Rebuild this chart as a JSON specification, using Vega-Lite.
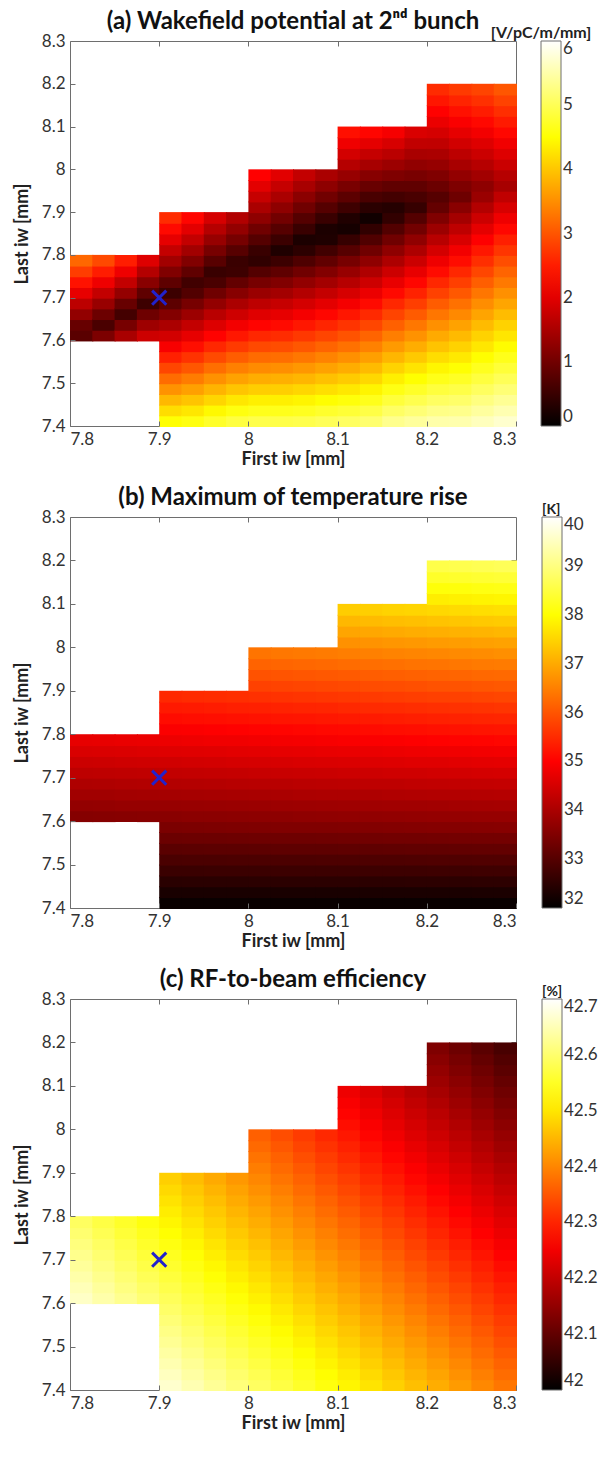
{
  "$schema": "https://vega.github.io/schema/vega-lite/v6.json",
  "padding": {"left": 12, "top": 9, "right": 0, "bottom": 0},
  "background": "white",
  "datasets": {
    "g": [
{"x":7.8,"y":7.6,"a":0.79,"b":33.57,"c":42.661},{"x":7.8,"y":7.625,"a":0.91,"b":33.73,"c":42.651},{"x":7.8,"y":7.65,"a":1.29,"b":33.89,"c":42.641},{"x":7.8,"y":7.675,"a":1.66,"b":34.05,"c":42.631},{"x":7.8,"y":7.7,"a":2.04,"b":34.22,"c":42.621},{"x":7.8,"y":7.725,"a":2.41,"b":34.39,"c":42.611},{"x":7.8,"y":7.75,"a":2.79,"b":34.55,"c":42.601},{"x":7.8,"y":7.775,"a":3.16,"b":34.72,"c":42.591},
{"x":7.825,"y":7.6,"a":1.09,"b":33.58,"c":42.642},{"x":7.825,"y":7.625,"a":0.65,"b":33.74,"c":42.632},{"x":7.825,"y":7.65,"a":0.95,"b":33.9,"c":42.622},{"x":7.825,"y":7.675,"a":1.34,"b":34.06,"c":42.612},{"x":7.825,"y":7.7,"a":1.72,"b":34.23,"c":42.602},{"x":7.825,"y":7.725,"a":2.11,"b":34.4,"c":42.592},{"x":7.825,"y":7.75,"a":2.5,"b":34.56,"c":42.582},{"x":7.825,"y":7.775,"a":2.89,"b":34.73,"c":42.572},
{"x":7.85,"y":7.6,"a":1.49,"b":33.59,"c":42.623},{"x":7.85,"y":7.625,"a":1.05,"b":33.76,"c":42.613},{"x":7.85,"y":7.65,"a":0.6,"b":33.92,"c":42.603},{"x":7.85,"y":7.675,"a":0.91,"b":34.08,"c":42.593},{"x":7.85,"y":7.7,"a":1.31,"b":34.25,"c":42.583},{"x":7.85,"y":7.725,"a":1.71,"b":34.42,"c":42.573},{"x":7.85,"y":7.75,"a":2.11,"b":34.58,"c":42.563},{"x":7.85,"y":7.775,"a":2.51,"b":34.75,"c":42.553},
{"x":7.875,"y":7.6,"a":1.81,"b":33.6,"c":42.604},{"x":7.875,"y":7.625,"a":1.39,"b":33.77,"c":42.594},{"x":7.875,"y":7.65,"a":0.97,"b":33.93,"c":42.584},{"x":7.875,"y":7.675,"a":0.54,"b":34.09,"c":42.574},{"x":7.875,"y":7.7,"a":0.84,"b":34.26,"c":42.564},{"x":7.875,"y":7.725,"a":1.21,"b":34.44,"c":42.554},{"x":7.875,"y":7.75,"a":1.59,"b":34.6,"c":42.544},{"x":7.875,"y":7.775,"a":1.96,"b":34.77,"c":42.534},
{"x":7.9,"y":7.4,"a":4.52,"b":32.1,"c":42.666},{"x":7.9,"y":7.425,"a":4.2,"b":32.29,"c":42.656},{"x":7.9,"y":7.45,"a":3.87,"b":32.48,"c":42.646},{"x":7.9,"y":7.475,"a":3.54,"b":32.68,"c":42.636},{"x":7.9,"y":7.5,"a":3.2,"b":32.87,"c":42.626},{"x":7.9,"y":7.525,"a":2.87,"b":33.06,"c":42.616},{"x":7.9,"y":7.55,"a":2.53,"b":33.26,"c":42.606},{"x":7.9,"y":7.575,"a":2.19,"b":33.45,"c":42.596},{"x":7.9,"y":7.6,"a":1.85,"b":33.61,"c":42.586},{"x":7.9,"y":7.625,"a":1.51,"b":33.78,"c":42.576},{"x":7.9,"y":7.65,"a":1.16,"b":33.94,"c":42.566},{"x":7.9,"y":7.675,"a":0.82,"b":34.1,"c":42.556},{"x":7.9,"y":7.7,"a":0.53,"b":34.28,"c":42.546},{"x":7.9,"y":7.725,"a":0.83,"b":34.45,"c":42.536},{"x":7.9,"y":7.75,"a":1.13,"b":34.62,"c":42.526},{"x":7.9,"y":7.775,"a":1.43,"b":34.79,"c":42.516},{"x":7.9,"y":7.8,"a":1.73,"b":34.95,"c":42.506},{"x":7.9,"y":7.825,"a":2.03,"b":35.13,"c":42.496},{"x":7.9,"y":7.85,"a":2.33,"b":35.29,"c":42.486},{"x":7.9,"y":7.875,"a":2.63,"b":35.47,"c":42.476},
{"x":7.925,"y":7.4,"a":4.6,"b":32.1,"c":42.647},{"x":7.925,"y":7.425,"a":4.29,"b":32.29,"c":42.637},{"x":7.925,"y":7.45,"a":3.98,"b":32.49,"c":42.627},{"x":7.925,"y":7.475,"a":3.66,"b":32.68,"c":42.617},{"x":7.925,"y":7.5,"a":3.34,"b":32.88,"c":42.607},{"x":7.925,"y":7.525,"a":3.02,"b":33.07,"c":42.597},{"x":7.925,"y":7.55,"a":2.7,"b":33.27,"c":42.587},{"x":7.925,"y":7.575,"a":2.37,"b":33.46,"c":42.577},{"x":7.925,"y":7.6,"a":2.04,"b":33.63,"c":42.567},{"x":7.925,"y":7.625,"a":1.72,"b":33.79,"c":42.557},{"x":7.925,"y":7.65,"a":1.38,"b":33.95,"c":42.547},{"x":7.925,"y":7.675,"a":1.05,"b":34.12,"c":42.537},{"x":7.925,"y":7.7,"a":0.72,"b":34.29,"c":42.527},{"x":7.925,"y":7.725,"a":0.57,"b":34.47,"c":42.517},{"x":7.925,"y":7.75,"a":0.85,"b":34.63,"c":42.507},{"x":7.925,"y":7.775,"a":1.14,"b":34.81,"c":42.497},{"x":7.925,"y":7.8,"a":1.43,"b":34.97,"c":42.487},{"x":7.925,"y":7.825,"a":1.72,"b":35.15,"c":42.477},{"x":7.925,"y":7.85,"a":2.0,"b":35.31,"c":42.467},{"x":7.925,"y":7.875,"a":2.29,"b":35.5,"c":42.457},
{"x":7.95,"y":7.4,"a":4.75,"b":32.1,"c":42.628},{"x":7.95,"y":7.425,"a":4.45,"b":32.29,"c":42.618},{"x":7.95,"y":7.45,"a":4.14,"b":32.49,"c":42.608},{"x":7.95,"y":7.475,"a":3.84,"b":32.69,"c":42.598},{"x":7.95,"y":7.5,"a":3.53,"b":32.88,"c":42.588},{"x":7.95,"y":7.525,"a":3.22,"b":33.08,"c":42.578},{"x":7.95,"y":7.55,"a":2.9,"b":33.27,"c":42.568},{"x":7.95,"y":7.575,"a":2.59,"b":33.47,"c":42.558},{"x":7.95,"y":7.6,"a":2.27,"b":33.64,"c":42.548},{"x":7.95,"y":7.625,"a":1.95,"b":33.8,"c":42.538},{"x":7.95,"y":7.65,"a":1.63,"b":33.97,"c":42.528},{"x":7.95,"y":7.675,"a":1.3,"b":34.13,"c":42.518},{"x":7.95,"y":7.7,"a":0.98,"b":34.31,"c":42.508},{"x":7.95,"y":7.725,"a":0.65,"b":34.48,"c":42.498},{"x":7.95,"y":7.75,"a":0.5,"b":34.65,"c":42.488},{"x":7.95,"y":7.775,"a":0.78,"b":34.83,"c":42.478},{"x":7.95,"y":7.8,"a":1.05,"b":34.99,"c":42.468},{"x":7.95,"y":7.825,"a":1.33,"b":35.17,"c":42.458},{"x":7.95,"y":7.85,"a":1.6,"b":35.33,"c":42.448},{"x":7.95,"y":7.875,"a":1.88,"b":35.52,"c":42.438},
{"x":7.975,"y":7.4,"a":4.88,"b":32.1,"c":42.609},{"x":7.975,"y":7.425,"a":4.59,"b":32.3,"c":42.599},{"x":7.975,"y":7.45,"a":4.29,"b":32.49,"c":42.589},{"x":7.975,"y":7.475,"a":3.99,"b":32.69,"c":42.579},{"x":7.975,"y":7.5,"a":3.68,"b":32.89,"c":42.569},{"x":7.975,"y":7.525,"a":3.38,"b":33.08,"c":42.559},{"x":7.975,"y":7.55,"a":3.07,"b":33.28,"c":42.549},{"x":7.975,"y":7.575,"a":2.76,"b":33.48,"c":42.539},{"x":7.975,"y":7.6,"a":2.45,"b":33.65,"c":42.529},{"x":7.975,"y":7.625,"a":2.14,"b":33.81,"c":42.519},{"x":7.975,"y":7.65,"a":1.82,"b":33.98,"c":42.509},{"x":7.975,"y":7.675,"a":1.51,"b":34.15,"c":42.499},{"x":7.975,"y":7.7,"a":1.19,"b":34.32,"c":42.489},{"x":7.975,"y":7.725,"a":0.87,"b":34.5,"c":42.479},{"x":7.975,"y":7.75,"a":0.54,"b":34.67,"c":42.469},{"x":7.975,"y":7.775,"a":0.51,"b":34.84,"c":42.459},{"x":7.975,"y":7.8,"a":0.77,"b":35.01,"c":42.449},{"x":7.975,"y":7.825,"a":1.04,"b":35.19,"c":42.439},{"x":7.975,"y":7.85,"a":1.3,"b":35.36,"c":42.429},{"x":7.975,"y":7.875,"a":1.56,"b":35.54,"c":42.419},
{"x":8.0,"y":7.4,"a":4.94,"b":32.1,"c":42.591},{"x":8.0,"y":7.425,"a":4.66,"b":32.3,"c":42.581},{"x":8.0,"y":7.45,"a":4.37,"b":32.5,"c":42.571},{"x":8.0,"y":7.475,"a":4.07,"b":32.69,"c":42.561},{"x":8.0,"y":7.5,"a":3.78,"b":32.89,"c":42.551},{"x":8.0,"y":7.525,"a":3.48,"b":33.09,"c":42.541},{"x":8.0,"y":7.55,"a":3.19,"b":33.29,"c":42.531},{"x":8.0,"y":7.575,"a":2.89,"b":33.49,"c":42.521},{"x":8.0,"y":7.6,"a":2.59,"b":33.66,"c":42.511},{"x":8.0,"y":7.625,"a":2.28,"b":33.82,"c":42.501},{"x":8.0,"y":7.65,"a":1.98,"b":33.99,"c":42.491},{"x":8.0,"y":7.675,"a":1.67,"b":34.16,"c":42.481},{"x":8.0,"y":7.7,"a":1.36,"b":34.34,"c":42.471},{"x":8.0,"y":7.725,"a":1.05,"b":34.52,"c":42.461},{"x":8.0,"y":7.75,"a":0.73,"b":34.68,"c":42.451},{"x":8.0,"y":7.775,"a":0.42,"b":34.86,"c":42.441},{"x":8.0,"y":7.8,"a":0.5,"b":35.03,"c":42.431},{"x":8.0,"y":7.825,"a":0.75,"b":35.21,"c":42.421},{"x":8.0,"y":7.85,"a":0.99,"b":35.38,"c":42.411},{"x":8.0,"y":7.875,"a":1.25,"b":35.57,"c":42.401},{"x":8.0,"y":7.9,"a":1.5,"b":35.76,"c":42.391},{"x":8.0,"y":7.925,"a":1.75,"b":35.96,"c":42.381},{"x":8.0,"y":7.95,"a":2.0,"b":36.16,"c":42.371},{"x":8.0,"y":7.975,"a":2.25,"b":36.37,"c":42.361},
{"x":8.025,"y":7.4,"a":4.93,"b":32.1,"c":42.572},{"x":8.025,"y":7.425,"a":4.65,"b":32.3,"c":42.562},{"x":8.025,"y":7.45,"a":4.37,"b":32.5,"c":42.552},{"x":8.025,"y":7.475,"a":4.08,"b":32.7,"c":42.542},{"x":8.025,"y":7.5,"a":3.8,"b":32.9,"c":42.532},{"x":8.025,"y":7.525,"a":3.51,"b":33.1,"c":42.522},{"x":8.025,"y":7.55,"a":3.22,"b":33.3,"c":42.512},{"x":8.025,"y":7.575,"a":2.93,"b":33.5,"c":42.502},{"x":8.025,"y":7.6,"a":2.64,"b":33.66,"c":42.492},{"x":8.025,"y":7.625,"a":2.34,"b":33.83,"c":42.482},{"x":8.025,"y":7.65,"a":2.04,"b":34.0,"c":42.472},{"x":8.025,"y":7.675,"a":1.75,"b":34.17,"c":42.462},{"x":8.025,"y":7.7,"a":1.44,"b":34.35,"c":42.452},{"x":8.025,"y":7.725,"a":1.14,"b":34.53,"c":42.442},{"x":8.025,"y":7.75,"a":0.84,"b":34.7,"c":42.432},{"x":8.025,"y":7.775,"a":0.53,"b":34.88,"c":42.422},{"x":8.025,"y":7.8,"a":0.27,"b":35.05,"c":42.412},{"x":8.025,"y":7.825,"a":0.52,"b":35.23,"c":42.402},{"x":8.025,"y":7.85,"a":0.76,"b":35.4,"c":42.392},{"x":8.025,"y":7.875,"a":1.01,"b":35.59,"c":42.382},{"x":8.025,"y":7.9,"a":1.25,"b":35.79,"c":42.372},{"x":8.025,"y":7.925,"a":1.5,"b":35.99,"c":42.362},{"x":8.025,"y":7.95,"a":1.74,"b":36.19,"c":42.352},{"x":8.025,"y":7.975,"a":1.99,"b":36.4,"c":42.342},
{"x":8.05,"y":7.4,"a":4.95,"b":32.1,"c":42.553},{"x":8.05,"y":7.425,"a":4.68,"b":32.3,"c":42.543},{"x":8.05,"y":7.45,"a":4.41,"b":32.5,"c":42.533},{"x":8.05,"y":7.475,"a":4.14,"b":32.7,"c":42.523},{"x":8.05,"y":7.5,"a":3.86,"b":32.9,"c":42.513},{"x":8.05,"y":7.525,"a":3.58,"b":33.1,"c":42.503},{"x":8.05,"y":7.55,"a":3.3,"b":33.3,"c":42.493},{"x":8.05,"y":7.575,"a":3.02,"b":33.5,"c":42.483},{"x":8.05,"y":7.6,"a":2.74,"b":33.68,"c":42.473},{"x":8.05,"y":7.625,"a":2.45,"b":33.85,"c":42.463},{"x":8.05,"y":7.65,"a":2.16,"b":34.02,"c":42.453},{"x":8.05,"y":7.675,"a":1.87,"b":34.19,"c":42.443},{"x":8.05,"y":7.7,"a":1.58,"b":34.37,"c":42.433},{"x":8.05,"y":7.725,"a":1.29,"b":34.55,"c":42.423},{"x":8.05,"y":7.75,"a":0.99,"b":34.72,"c":42.413},{"x":8.05,"y":7.775,"a":0.69,"b":34.9,"c":42.403},{"x":8.05,"y":7.8,"a":0.39,"b":35.07,"c":42.393},{"x":8.05,"y":7.825,"a":0.25,"b":35.25,"c":42.383},{"x":8.05,"y":7.85,"a":0.5,"b":35.42,"c":42.373},{"x":8.05,"y":7.875,"a":0.74,"b":35.61,"c":42.363},{"x":8.05,"y":7.9,"a":0.99,"b":35.81,"c":42.353},{"x":8.05,"y":7.925,"a":1.23,"b":36.01,"c":42.343},{"x":8.05,"y":7.95,"a":1.48,"b":36.21,"c":42.333},{"x":8.05,"y":7.975,"a":1.72,"b":36.42,"c":42.323},
{"x":8.075,"y":7.4,"a":5.02,"b":32.1,"c":42.534},{"x":8.075,"y":7.425,"a":4.76,"b":32.3,"c":42.524},{"x":8.075,"y":7.45,"a":4.49,"b":32.5,"c":42.514},{"x":8.075,"y":7.475,"a":4.22,"b":32.71,"c":42.504},{"x":8.075,"y":7.5,"a":3.95,"b":32.91,"c":42.494},{"x":8.075,"y":7.525,"a":3.68,"b":33.11,"c":42.484},{"x":8.075,"y":7.55,"a":3.41,"b":33.31,"c":42.474},{"x":8.075,"y":7.575,"a":3.13,"b":33.51,"c":42.464},{"x":8.075,"y":7.6,"a":2.86,"b":33.69,"c":42.454},{"x":8.075,"y":7.625,"a":2.58,"b":33.86,"c":42.444},{"x":8.075,"y":7.65,"a":2.3,"b":34.03,"c":42.434},{"x":8.075,"y":7.675,"a":2.01,"b":34.2,"c":42.424},{"x":8.075,"y":7.7,"a":1.73,"b":34.38,"c":42.414},{"x":8.075,"y":7.725,"a":1.44,"b":34.56,"c":42.404},{"x":8.075,"y":7.75,"a":1.15,"b":34.74,"c":42.394},{"x":8.075,"y":7.775,"a":0.86,"b":34.92,"c":42.384},{"x":8.075,"y":7.8,"a":0.57,"b":35.09,"c":42.374},{"x":8.075,"y":7.825,"a":0.27,"b":35.27,"c":42.364},{"x":8.075,"y":7.85,"a":0.25,"b":35.44,"c":42.354},{"x":8.075,"y":7.875,"a":0.5,"b":35.63,"c":42.344},{"x":8.075,"y":7.9,"a":0.75,"b":35.84,"c":42.334},{"x":8.075,"y":7.925,"a":1.0,"b":36.04,"c":42.324},{"x":8.075,"y":7.95,"a":1.25,"b":36.24,"c":42.314},{"x":8.075,"y":7.975,"a":1.5,"b":36.45,"c":42.304},
{"x":8.1,"y":7.4,"a":5.07,"b":32.1,"c":42.516},{"x":8.1,"y":7.425,"a":4.82,"b":32.3,"c":42.506},{"x":8.1,"y":7.45,"a":4.56,"b":32.51,"c":42.496},{"x":8.1,"y":7.475,"a":4.3,"b":32.71,"c":42.486},{"x":8.1,"y":7.5,"a":4.04,"b":32.91,"c":42.476},{"x":8.1,"y":7.525,"a":3.78,"b":33.12,"c":42.466},{"x":8.1,"y":7.55,"a":3.52,"b":33.32,"c":42.456},{"x":8.1,"y":7.575,"a":3.25,"b":33.52,"c":42.446},{"x":8.1,"y":7.6,"a":2.98,"b":33.7,"c":42.436},{"x":8.1,"y":7.625,"a":2.71,"b":33.87,"c":42.426},{"x":8.1,"y":7.65,"a":2.44,"b":34.04,"c":42.416},{"x":8.1,"y":7.675,"a":2.16,"b":34.21,"c":42.406},{"x":8.1,"y":7.7,"a":1.89,"b":34.4,"c":42.396},{"x":8.1,"y":7.725,"a":1.61,"b":34.58,"c":42.386},{"x":8.1,"y":7.75,"a":1.33,"b":34.75,"c":42.376},{"x":8.1,"y":7.775,"a":1.05,"b":34.94,"c":42.366},{"x":8.1,"y":7.8,"a":0.76,"b":35.11,"c":42.356},{"x":8.1,"y":7.825,"a":0.48,"b":35.29,"c":42.346},{"x":8.1,"y":7.85,"a":0.19,"b":35.47,"c":42.336},{"x":8.1,"y":7.875,"a":0.28,"b":35.66,"c":42.326},{"x":8.1,"y":7.9,"a":0.55,"b":35.86,"c":42.316},{"x":8.1,"y":7.925,"a":0.81,"b":36.06,"c":42.306},{"x":8.1,"y":7.95,"a":1.07,"b":36.27,"c":42.296},{"x":8.1,"y":7.975,"a":1.33,"b":36.48,"c":42.286},{"x":8.1,"y":8.0,"a":1.6,"b":36.7,"c":42.276},{"x":8.1,"y":8.025,"a":1.86,"b":36.94,"c":42.266},{"x":8.1,"y":8.05,"a":2.12,"b":37.17,"c":42.256},{"x":8.1,"y":8.075,"a":2.38,"b":37.41,"c":42.246},
{"x":8.125,"y":7.4,"a":5.15,"b":32.1,"c":42.497},{"x":8.125,"y":7.425,"a":4.91,"b":32.31,"c":42.487},{"x":8.125,"y":7.45,"a":4.66,"b":32.51,"c":42.477},{"x":8.125,"y":7.475,"a":4.41,"b":32.72,"c":42.467},{"x":8.125,"y":7.5,"a":4.16,"b":32.92,"c":42.457},{"x":8.125,"y":7.525,"a":3.9,"b":33.12,"c":42.447},{"x":8.125,"y":7.55,"a":3.65,"b":33.33,"c":42.437},{"x":8.125,"y":7.575,"a":3.39,"b":33.53,"c":42.427},{"x":8.125,"y":7.6,"a":3.13,"b":33.71,"c":42.417},{"x":8.125,"y":7.625,"a":2.87,"b":33.88,"c":42.407},{"x":8.125,"y":7.65,"a":2.61,"b":34.05,"c":42.397},{"x":8.125,"y":7.675,"a":2.34,"b":34.23,"c":42.387},{"x":8.125,"y":7.7,"a":2.08,"b":34.41,"c":42.377},{"x":8.125,"y":7.725,"a":1.81,"b":34.6,"c":42.367},{"x":8.125,"y":7.75,"a":1.54,"b":34.77,"c":42.357},{"x":8.125,"y":7.775,"a":1.26,"b":34.95,"c":42.347},{"x":8.125,"y":7.8,"a":0.99,"b":35.13,"c":42.337},{"x":8.125,"y":7.825,"a":0.71,"b":35.31,"c":42.327},{"x":8.125,"y":7.85,"a":0.43,"b":35.49,"c":42.317},{"x":8.125,"y":7.875,"a":0.15,"b":35.68,"c":42.307},{"x":8.125,"y":7.9,"a":0.37,"b":35.89,"c":42.297},{"x":8.125,"y":7.925,"a":0.64,"b":36.09,"c":42.287},{"x":8.125,"y":7.95,"a":0.92,"b":36.29,"c":42.277},{"x":8.125,"y":7.975,"a":1.19,"b":36.51,"c":42.267},{"x":8.125,"y":8.0,"a":1.47,"b":36.73,"c":42.257},{"x":8.125,"y":8.025,"a":1.74,"b":36.97,"c":42.247},{"x":8.125,"y":8.05,"a":2.02,"b":37.2,"c":42.237},{"x":8.125,"y":8.075,"a":2.29,"b":37.44,"c":42.227},
{"x":8.15,"y":7.4,"a":5.33,"b":32.1,"c":42.478},{"x":8.15,"y":7.425,"a":5.09,"b":32.31,"c":42.468},{"x":8.15,"y":7.45,"a":4.85,"b":32.51,"c":42.458},{"x":8.15,"y":7.475,"a":4.61,"b":32.72,"c":42.448},{"x":8.15,"y":7.5,"a":4.36,"b":32.92,"c":42.438},{"x":8.15,"y":7.525,"a":4.11,"b":33.13,"c":42.428},{"x":8.15,"y":7.55,"a":3.86,"b":33.34,"c":42.418},{"x":8.15,"y":7.575,"a":3.61,"b":33.54,"c":42.408},{"x":8.15,"y":7.6,"a":3.36,"b":33.72,"c":42.398},{"x":8.15,"y":7.625,"a":3.1,"b":33.89,"c":42.388},{"x":8.15,"y":7.65,"a":2.85,"b":34.07,"c":42.378},{"x":8.15,"y":7.675,"a":2.59,"b":34.24,"c":42.368},{"x":8.15,"y":7.7,"a":2.33,"b":34.43,"c":42.358},{"x":8.15,"y":7.725,"a":2.06,"b":34.61,"c":42.348},{"x":8.15,"y":7.75,"a":1.8,"b":34.79,"c":42.338},{"x":8.15,"y":7.775,"a":1.53,"b":34.97,"c":42.328},{"x":8.15,"y":7.8,"a":1.26,"b":35.15,"c":42.318},{"x":8.15,"y":7.825,"a":0.99,"b":35.33,"c":42.308},{"x":8.15,"y":7.85,"a":0.72,"b":35.51,"c":42.298},{"x":8.15,"y":7.875,"a":0.44,"b":35.7,"c":42.288},{"x":8.15,"y":7.9,"a":0.33,"b":35.91,"c":42.278},{"x":8.15,"y":7.925,"a":0.59,"b":36.12,"c":42.268},{"x":8.15,"y":7.95,"a":0.85,"b":36.32,"c":42.258},{"x":8.15,"y":7.975,"a":1.12,"b":36.54,"c":42.248},{"x":8.15,"y":8.0,"a":1.38,"b":36.76,"c":42.238},{"x":8.15,"y":8.025,"a":1.64,"b":37.0,"c":42.228},{"x":8.15,"y":8.05,"a":1.9,"b":37.23,"c":42.218},{"x":8.15,"y":8.075,"a":2.17,"b":37.48,"c":42.208},
{"x":8.175,"y":7.4,"a":5.42,"b":32.1,"c":42.459},{"x":8.175,"y":7.425,"a":5.19,"b":32.31,"c":42.449},{"x":8.175,"y":7.45,"a":4.96,"b":32.52,"c":42.439},{"x":8.175,"y":7.475,"a":4.73,"b":32.72,"c":42.429},{"x":8.175,"y":7.5,"a":4.5,"b":32.93,"c":42.419},{"x":8.175,"y":7.525,"a":4.26,"b":33.14,"c":42.409},{"x":8.175,"y":7.55,"a":4.02,"b":33.34,"c":42.399},{"x":8.175,"y":7.575,"a":3.78,"b":33.55,"c":42.389},{"x":8.175,"y":7.6,"a":3.54,"b":33.73,"c":42.379},{"x":8.175,"y":7.625,"a":3.3,"b":33.9,"c":42.369},{"x":8.175,"y":7.65,"a":3.05,"b":34.08,"c":42.359},{"x":8.175,"y":7.675,"a":2.8,"b":34.26,"c":42.349},{"x":8.175,"y":7.7,"a":2.55,"b":34.44,"c":42.339},{"x":8.175,"y":7.725,"a":2.3,"b":34.63,"c":42.329},{"x":8.175,"y":7.75,"a":2.05,"b":34.81,"c":42.319},{"x":8.175,"y":7.775,"a":1.79,"b":34.99,"c":42.309},{"x":8.175,"y":7.8,"a":1.53,"b":35.17,"c":42.299},{"x":8.175,"y":7.825,"a":1.27,"b":35.35,"c":42.289},{"x":8.175,"y":7.85,"a":1.01,"b":35.53,"c":42.279},{"x":8.175,"y":7.875,"a":0.74,"b":35.73,"c":42.269},{"x":8.175,"y":7.9,"a":0.48,"b":35.93,"c":42.259},{"x":8.175,"y":7.925,"a":0.64,"b":36.14,"c":42.249},{"x":8.175,"y":7.95,"a":0.85,"b":36.35,"c":42.239},{"x":8.175,"y":7.975,"a":1.07,"b":36.56,"c":42.229},{"x":8.175,"y":8.0,"a":1.28,"b":36.79,"c":42.219},{"x":8.175,"y":8.025,"a":1.49,"b":37.03,"c":42.209},{"x":8.175,"y":8.05,"a":1.7,"b":37.26,"c":42.199},{"x":8.175,"y":8.075,"a":1.92,"b":37.51,"c":42.189},
{"x":8.2,"y":7.4,"a":5.5,"b":32.1,"c":42.441},{"x":8.2,"y":7.425,"a":5.29,"b":32.31,"c":42.431},{"x":8.2,"y":7.45,"a":5.07,"b":32.52,"c":42.421},{"x":8.2,"y":7.475,"a":4.86,"b":32.73,"c":42.411},{"x":8.2,"y":7.5,"a":4.64,"b":32.94,"c":42.401},{"x":8.2,"y":7.525,"a":4.42,"b":33.14,"c":42.391},{"x":8.2,"y":7.55,"a":4.2,"b":33.35,"c":42.381},{"x":8.2,"y":7.575,"a":3.97,"b":33.56,"c":42.371},{"x":8.2,"y":7.6,"a":3.75,"b":33.74,"c":42.361},{"x":8.2,"y":7.625,"a":3.52,"b":33.91,"c":42.351},{"x":8.2,"y":7.65,"a":3.29,"b":34.09,"c":42.341},{"x":8.2,"y":7.675,"a":3.06,"b":34.27,"c":42.331},{"x":8.2,"y":7.7,"a":2.82,"b":34.46,"c":42.321},{"x":8.2,"y":7.725,"a":2.59,"b":34.64,"c":42.311},{"x":8.2,"y":7.75,"a":2.35,"b":34.82,"c":42.301},{"x":8.2,"y":7.775,"a":2.11,"b":35.01,"c":42.291},{"x":8.2,"y":7.8,"a":1.87,"b":35.19,"c":42.281},{"x":8.2,"y":7.825,"a":1.62,"b":35.38,"c":42.271},{"x":8.2,"y":7.85,"a":1.38,"b":35.55,"c":42.261},{"x":8.2,"y":7.875,"a":1.13,"b":35.75,"c":42.251},{"x":8.2,"y":7.9,"a":0.88,"b":35.96,"c":42.241},{"x":8.2,"y":7.925,"a":0.76,"b":36.17,"c":42.231},{"x":8.2,"y":7.95,"a":0.94,"b":36.37,"c":42.221},{"x":8.2,"y":7.975,"a":1.13,"b":36.59,"c":42.211},{"x":8.2,"y":8.0,"a":1.32,"b":36.82,"c":42.201},{"x":8.2,"y":8.025,"a":1.51,"b":37.06,"c":42.191},{"x":8.2,"y":8.05,"a":1.69,"b":37.3,"c":42.181},{"x":8.2,"y":8.075,"a":1.88,"b":37.54,"c":42.171},{"x":8.2,"y":8.1,"a":2.07,"b":37.8,"c":42.161},{"x":8.2,"y":8.125,"a":2.26,"b":38.06,"c":42.151},{"x":8.2,"y":8.15,"a":2.44,"b":38.32,"c":42.141},{"x":8.2,"y":8.175,"a":2.63,"b":38.57,"c":42.131},
{"x":8.225,"y":7.4,"a":5.52,"b":32.11,"c":42.422},{"x":8.225,"y":7.425,"a":5.32,"b":32.31,"c":42.412},{"x":8.225,"y":7.45,"a":5.12,"b":32.52,"c":42.402},{"x":8.225,"y":7.475,"a":4.92,"b":32.73,"c":42.392},{"x":8.225,"y":7.5,"a":4.72,"b":32.94,"c":42.382},{"x":8.225,"y":7.525,"a":4.51,"b":33.15,"c":42.372},{"x":8.225,"y":7.55,"a":4.31,"b":33.36,"c":42.362},{"x":8.225,"y":7.575,"a":4.1,"b":33.57,"c":42.352},{"x":8.225,"y":7.6,"a":3.89,"b":33.75,"c":42.342},{"x":8.225,"y":7.625,"a":3.68,"b":33.93,"c":42.332},{"x":8.225,"y":7.65,"a":3.46,"b":34.1,"c":42.322},{"x":8.225,"y":7.675,"a":3.25,"b":34.28,"c":42.312},{"x":8.225,"y":7.7,"a":3.03,"b":34.47,"c":42.302},{"x":8.225,"y":7.725,"a":2.81,"b":34.66,"c":42.292},{"x":8.225,"y":7.75,"a":2.59,"b":34.84,"c":42.282},{"x":8.225,"y":7.775,"a":2.36,"b":35.03,"c":42.272},{"x":8.225,"y":7.8,"a":2.14,"b":35.21,"c":42.262},{"x":8.225,"y":7.825,"a":1.91,"b":35.4,"c":42.252},{"x":8.225,"y":7.85,"a":1.68,"b":35.58,"c":42.242},{"x":8.225,"y":7.875,"a":1.45,"b":35.77,"c":42.232},{"x":8.225,"y":7.9,"a":1.21,"b":35.98,"c":42.222},{"x":8.225,"y":7.925,"a":0.97,"b":36.19,"c":42.212},{"x":8.225,"y":7.95,"a":1.11,"b":36.4,"c":42.202},{"x":8.225,"y":7.975,"a":1.3,"b":36.62,"c":42.192},{"x":8.225,"y":8.0,"a":1.48,"b":36.85,"c":42.182},{"x":8.225,"y":8.025,"a":1.66,"b":37.09,"c":42.172},{"x":8.225,"y":8.05,"a":1.84,"b":37.33,"c":42.162},{"x":8.225,"y":8.075,"a":2.03,"b":37.58,"c":42.152},{"x":8.225,"y":8.1,"a":2.21,"b":37.83,"c":42.142},{"x":8.225,"y":8.125,"a":2.39,"b":38.09,"c":42.132},{"x":8.225,"y":8.15,"a":2.57,"b":38.35,"c":42.122},{"x":8.225,"y":8.175,"a":2.76,"b":38.61,"c":42.112},
{"x":8.25,"y":7.4,"a":5.61,"b":32.11,"c":42.403},{"x":8.25,"y":7.425,"a":5.43,"b":32.32,"c":42.393},{"x":8.25,"y":7.45,"a":5.25,"b":32.53,"c":42.383},{"x":8.25,"y":7.475,"a":5.06,"b":32.74,"c":42.373},{"x":8.25,"y":7.5,"a":4.87,"b":32.95,"c":42.363},{"x":8.25,"y":7.525,"a":4.68,"b":33.16,"c":42.353},{"x":8.25,"y":7.55,"a":4.49,"b":33.37,"c":42.343},{"x":8.25,"y":7.575,"a":4.29,"b":33.58,"c":42.333},{"x":8.25,"y":7.6,"a":4.1,"b":33.76,"c":42.323},{"x":8.25,"y":7.625,"a":3.9,"b":33.94,"c":42.313},{"x":8.25,"y":7.65,"a":3.7,"b":34.12,"c":42.303},{"x":8.25,"y":7.675,"a":3.49,"b":34.3,"c":42.293},{"x":8.25,"y":7.7,"a":3.29,"b":34.49,"c":42.283},{"x":8.25,"y":7.725,"a":3.08,"b":34.68,"c":42.273},{"x":8.25,"y":7.75,"a":2.87,"b":34.86,"c":42.263},{"x":8.25,"y":7.775,"a":2.66,"b":35.05,"c":42.253},{"x":8.25,"y":7.8,"a":2.45,"b":35.23,"c":42.243},{"x":8.25,"y":7.825,"a":2.24,"b":35.42,"c":42.233},{"x":8.25,"y":7.85,"a":2.02,"b":35.6,"c":42.223},{"x":8.25,"y":7.875,"a":1.8,"b":35.8,"c":42.213},{"x":8.25,"y":7.9,"a":1.58,"b":36.01,"c":42.203},{"x":8.25,"y":7.925,"a":1.36,"b":36.22,"c":42.193},{"x":8.25,"y":7.95,"a":1.25,"b":36.43,"c":42.183},{"x":8.25,"y":7.975,"a":1.43,"b":36.65,"c":42.173},{"x":8.25,"y":8.0,"a":1.61,"b":36.88,"c":42.163},{"x":8.25,"y":8.025,"a":1.79,"b":37.12,"c":42.153},{"x":8.25,"y":8.05,"a":1.96,"b":37.36,"c":42.143},{"x":8.25,"y":8.075,"a":2.14,"b":37.61,"c":42.133},{"x":8.25,"y":8.1,"a":2.32,"b":37.87,"c":42.123},{"x":8.25,"y":8.125,"a":2.5,"b":38.13,"c":42.113},{"x":8.25,"y":8.15,"a":2.67,"b":38.39,"c":42.103},{"x":8.25,"y":8.175,"a":2.85,"b":38.65,"c":42.093},
{"x":8.275,"y":7.4,"a":5.71,"b":32.11,"c":42.384},{"x":8.275,"y":7.425,"a":5.54,"b":32.32,"c":42.374},{"x":8.275,"y":7.45,"a":5.37,"b":32.53,"c":42.364},{"x":8.275,"y":7.475,"a":5.19,"b":32.74,"c":42.354},{"x":8.275,"y":7.5,"a":5.01,"b":32.95,"c":42.344},{"x":8.275,"y":7.525,"a":4.83,"b":33.16,"c":42.334},{"x":8.275,"y":7.55,"a":4.65,"b":33.37,"c":42.324},{"x":8.275,"y":7.575,"a":4.47,"b":33.59,"c":42.314},{"x":8.275,"y":7.6,"a":4.28,"b":33.77,"c":42.304},{"x":8.275,"y":7.625,"a":4.1,"b":33.95,"c":42.294},{"x":8.275,"y":7.65,"a":3.91,"b":34.13,"c":42.284},{"x":8.275,"y":7.675,"a":3.71,"b":34.31,"c":42.274},{"x":8.275,"y":7.7,"a":3.52,"b":34.5,"c":42.264},{"x":8.275,"y":7.725,"a":3.32,"b":34.69,"c":42.254},{"x":8.275,"y":7.75,"a":3.13,"b":34.87,"c":42.244},{"x":8.275,"y":7.775,"a":2.93,"b":35.07,"c":42.234},{"x":8.275,"y":7.8,"a":2.72,"b":35.25,"c":42.224},{"x":8.275,"y":7.825,"a":2.52,"b":35.44,"c":42.214},{"x":8.275,"y":7.85,"a":2.31,"b":35.62,"c":42.204},{"x":8.275,"y":7.875,"a":2.11,"b":35.82,"c":42.194},{"x":8.275,"y":7.9,"a":1.9,"b":36.03,"c":42.184},{"x":8.275,"y":7.925,"a":1.69,"b":36.24,"c":42.174},{"x":8.275,"y":7.95,"a":1.47,"b":36.45,"c":42.164},{"x":8.275,"y":7.975,"a":1.61,"b":36.68,"c":42.154},{"x":8.275,"y":8.0,"a":1.78,"b":36.91,"c":42.144},{"x":8.275,"y":8.025,"a":1.96,"b":37.15,"c":42.134},{"x":8.275,"y":8.05,"a":2.13,"b":37.39,"c":42.124},{"x":8.275,"y":8.075,"a":2.31,"b":37.64,"c":42.114},{"x":8.275,"y":8.1,"a":2.48,"b":37.9,"c":42.104},{"x":8.275,"y":8.125,"a":2.66,"b":38.16,"c":42.094},{"x":8.275,"y":8.15,"a":2.83,"b":38.42,"c":42.084},{"x":8.275,"y":8.175,"a":3.01,"b":38.69,"c":42.074}
    ],
    "m": [{"fx": 7.9, "ly": 7.7}]
  },
  "config": {
    "view": {"stroke": "#6e6e6e", "strokeWidth": 1},
    "font": "Lato",
    "axis": {"domain": false, "grid": false, "tickColor": "#6e6e6e", "tickSize": -5, "labelFont": "Lato", "labelFontSize": 17, "labelColor": "#333333", "titleFont": "Lato", "titleFontSize": 18, "titleFontWeight": "bold", "titleColor": "#222222"},
    "title": {"font": "Lato", "fontSize": 24, "fontWeight": "bold", "color": "#111111", "anchor": "middle", "offset": -2},
    "legend": {"padding": 0, "offset": 25, "gradientThickness": 20, "gradientStrokeColor": "#6e6e6e", "gradientStrokeWidth": 1, "labelFont": "Lato", "labelFontSize": 17, "labelColor": "#333333", "labelOffset": 6, "labelBaseline": "middle", "labelOverlap": false, "titleFont": "Lato", "titleFontSize": 14, "titleFontWeight": "bold", "titleColor": "#222222", "titleBaseline": "bottom", "titleLineHeight": 24, "titlePadding": -38}
  },
  "resolve": {"scale": {"color": "independent"}, "legend": {"color": "independent"}},
  "spacing": 16,
  "vconcat": [
    {
      "width": 446, "height": 385,
      "title": "(a) Wakefield potential at 2ⁿᵈ bunch",
      "layer": [
        {
          "data": {"name": "g"},
          "mark": {"type": "rect", "binSpacing": -1},
          "encoding": {
            "x": {"field": "x", "type": "quantitative", "bin": {"binned": true, "step": 0.025}, "scale": {"domain": [7.8, 8.3], "nice": false, "zero": false}, "axis": {"orient": "bottom", "values": [7.8, 7.9, 8.0, 8.1, 8.2, 8.3], "format": "~g", "labelPadding": 10, "title": "First iw [mm]", "titlePadding": 3}},
            "y": {"field": "y", "type": "quantitative", "bin": {"binned": true, "step": 0.025}, "scale": {"domain": [7.4, 8.3], "nice": false, "zero": false}, "axis": {"orient": "left", "values": [7.4, 7.5, 7.6, 7.7, 7.8, 7.9, 8.0, 8.1, 8.2, 8.3], "format": "~g", "labelPadding": 10, "title": "Last iw [mm]", "titlePadding": 10}},
            "color": {"field": "a", "type": "quantitative", "scale": {"domain": [0, 2.25, 4.5, 6], "range": ["#000000", "#ff0000", "#ffff00", "#ffffff"], "interpolate": "rgb"}, "legend": {"type": "gradient", "direction": "vertical", "title": ["[V/pC/m/mm]", ""], "titleFontSize": 16, "titleLineHeight": 18, "titlePadding": -34, "titleAnchor": "start", "titleAlign": "center", "offset": -26, "values": [0, 1, 2, 3, 4, 5, 6], "gradientLength": 385}}
          }
        },
        {
          "data": {"name": "m"},
          "mark": {"type": "point", "shape": "M-1,-1L1,1M-1,1L1,-1", "filled": false, "stroke": "#2222cc", "strokeWidth": 3, "size": 200, "opacity": 1},
          "encoding": {
            "x": {"field": "fx", "type": "quantitative", "axis": {"orient": "top", "values": [7.9, 8.0, 8.1, 8.2], "labels": false, "title": null}},
            "y": {"field": "ly", "type": "quantitative", "axis": {"orient": "right", "values": [7.5, 7.6, 7.7, 7.8, 7.9, 8.0, 8.1, 8.2], "labels": false, "title": null}}
          }
        }
      ]
    },
    {
      "width": 446, "height": 391,
      "title": "(b) Maximum of temperature rise",
      "layer": [
        {
          "data": {"name": "g"},
          "mark": {"type": "rect", "binSpacing": -1},
          "encoding": {
            "x": {"field": "x", "type": "quantitative", "bin": {"binned": true, "step": 0.025}, "scale": {"domain": [7.8, 8.3], "nice": false, "zero": false}, "axis": {"orient": "bottom", "values": [7.8, 7.9, 8.0, 8.1, 8.2, 8.3], "format": "~g", "labelPadding": 10, "title": "First iw [mm]", "titlePadding": 3}},
            "y": {"field": "y", "type": "quantitative", "bin": {"binned": true, "step": 0.025}, "scale": {"domain": [7.4, 8.3], "nice": false, "zero": false}, "axis": {"orient": "left", "values": [7.4, 7.5, 7.6, 7.7, 7.8, 7.9, 8.0, 8.1, 8.2, 8.3], "format": "~g", "labelPadding": 10, "title": "Last iw [mm]", "titlePadding": 10}},
            "color": {"field": "b", "type": "quantitative", "scale": {"domain": [32, 35, 38, 40], "range": ["#000000", "#ff0000", "#ffff00", "#ffffff"], "interpolate": "rgb"}, "legend": {"type": "gradient", "direction": "vertical", "title": ["[K]", ""], "values": [32, 33, 34, 35, 36, 37, 38, 39, 40], "gradientLength": 391}}
          }
        },
        {
          "data": {"name": "m"},
          "mark": {"type": "point", "shape": "M-1,-1L1,1M-1,1L1,-1", "filled": false, "stroke": "#2222cc", "strokeWidth": 3, "size": 200, "opacity": 1},
          "encoding": {
            "x": {"field": "fx", "type": "quantitative", "axis": {"orient": "top", "values": [7.9, 8.0, 8.1, 8.2], "labels": false, "title": null}},
            "y": {"field": "ly", "type": "quantitative", "axis": {"orient": "right", "values": [7.5, 7.6, 7.7, 7.8, 7.9, 8.0, 8.1, 8.2], "labels": false, "title": null}}
          }
        }
      ]
    },
    {
      "width": 446, "height": 391,
      "title": "(c) RF-to-beam efficiency",
      "layer": [
        {
          "data": {"name": "g"},
          "mark": {"type": "rect", "binSpacing": -1},
          "encoding": {
            "x": {"field": "x", "type": "quantitative", "bin": {"binned": true, "step": 0.025}, "scale": {"domain": [7.8, 8.3], "nice": false, "zero": false}, "axis": {"orient": "bottom", "values": [7.8, 7.9, 8.0, 8.1, 8.2, 8.3], "format": "~g", "labelPadding": 10, "title": "First iw [mm]", "titlePadding": 3}},
            "y": {"field": "y", "type": "quantitative", "bin": {"binned": true, "step": 0.025}, "scale": {"domain": [7.4, 8.3], "nice": false, "zero": false}, "axis": {"orient": "left", "values": [7.4, 7.5, 7.6, 7.7, 7.8, 7.9, 8.0, 8.1, 8.2, 8.3], "format": "~g", "labelPadding": 10, "title": "Last iw [mm]", "titlePadding": 10}},
            "color": {"field": "c", "type": "quantitative", "scale": {"domain": [42, 42.2625, 42.525, 42.7], "range": ["#000000", "#ff0000", "#ffff00", "#ffffff"], "interpolate": "rgb"}, "legend": {"type": "gradient", "direction": "vertical", "title": ["[%]", ""], "values": [42, 42.1, 42.2, 42.3, 42.4, 42.5, 42.6, 42.7], "format": "~g", "gradientLength": 391}}
          }
        },
        {
          "data": {"name": "m"},
          "mark": {"type": "point", "shape": "M-1,-1L1,1M-1,1L1,-1", "filled": false, "stroke": "#2222cc", "strokeWidth": 3, "size": 200, "opacity": 1},
          "encoding": {
            "x": {"field": "fx", "type": "quantitative", "axis": {"orient": "top", "values": [7.9, 8.0, 8.1, 8.2], "labels": false, "title": null}},
            "y": {"field": "ly", "type": "quantitative", "axis": {"orient": "right", "values": [7.5, 7.6, 7.7, 7.8, 7.9, 8.0, 8.1, 8.2], "labels": false, "title": null}}
          }
        }
      ]
    }
  ]
}
